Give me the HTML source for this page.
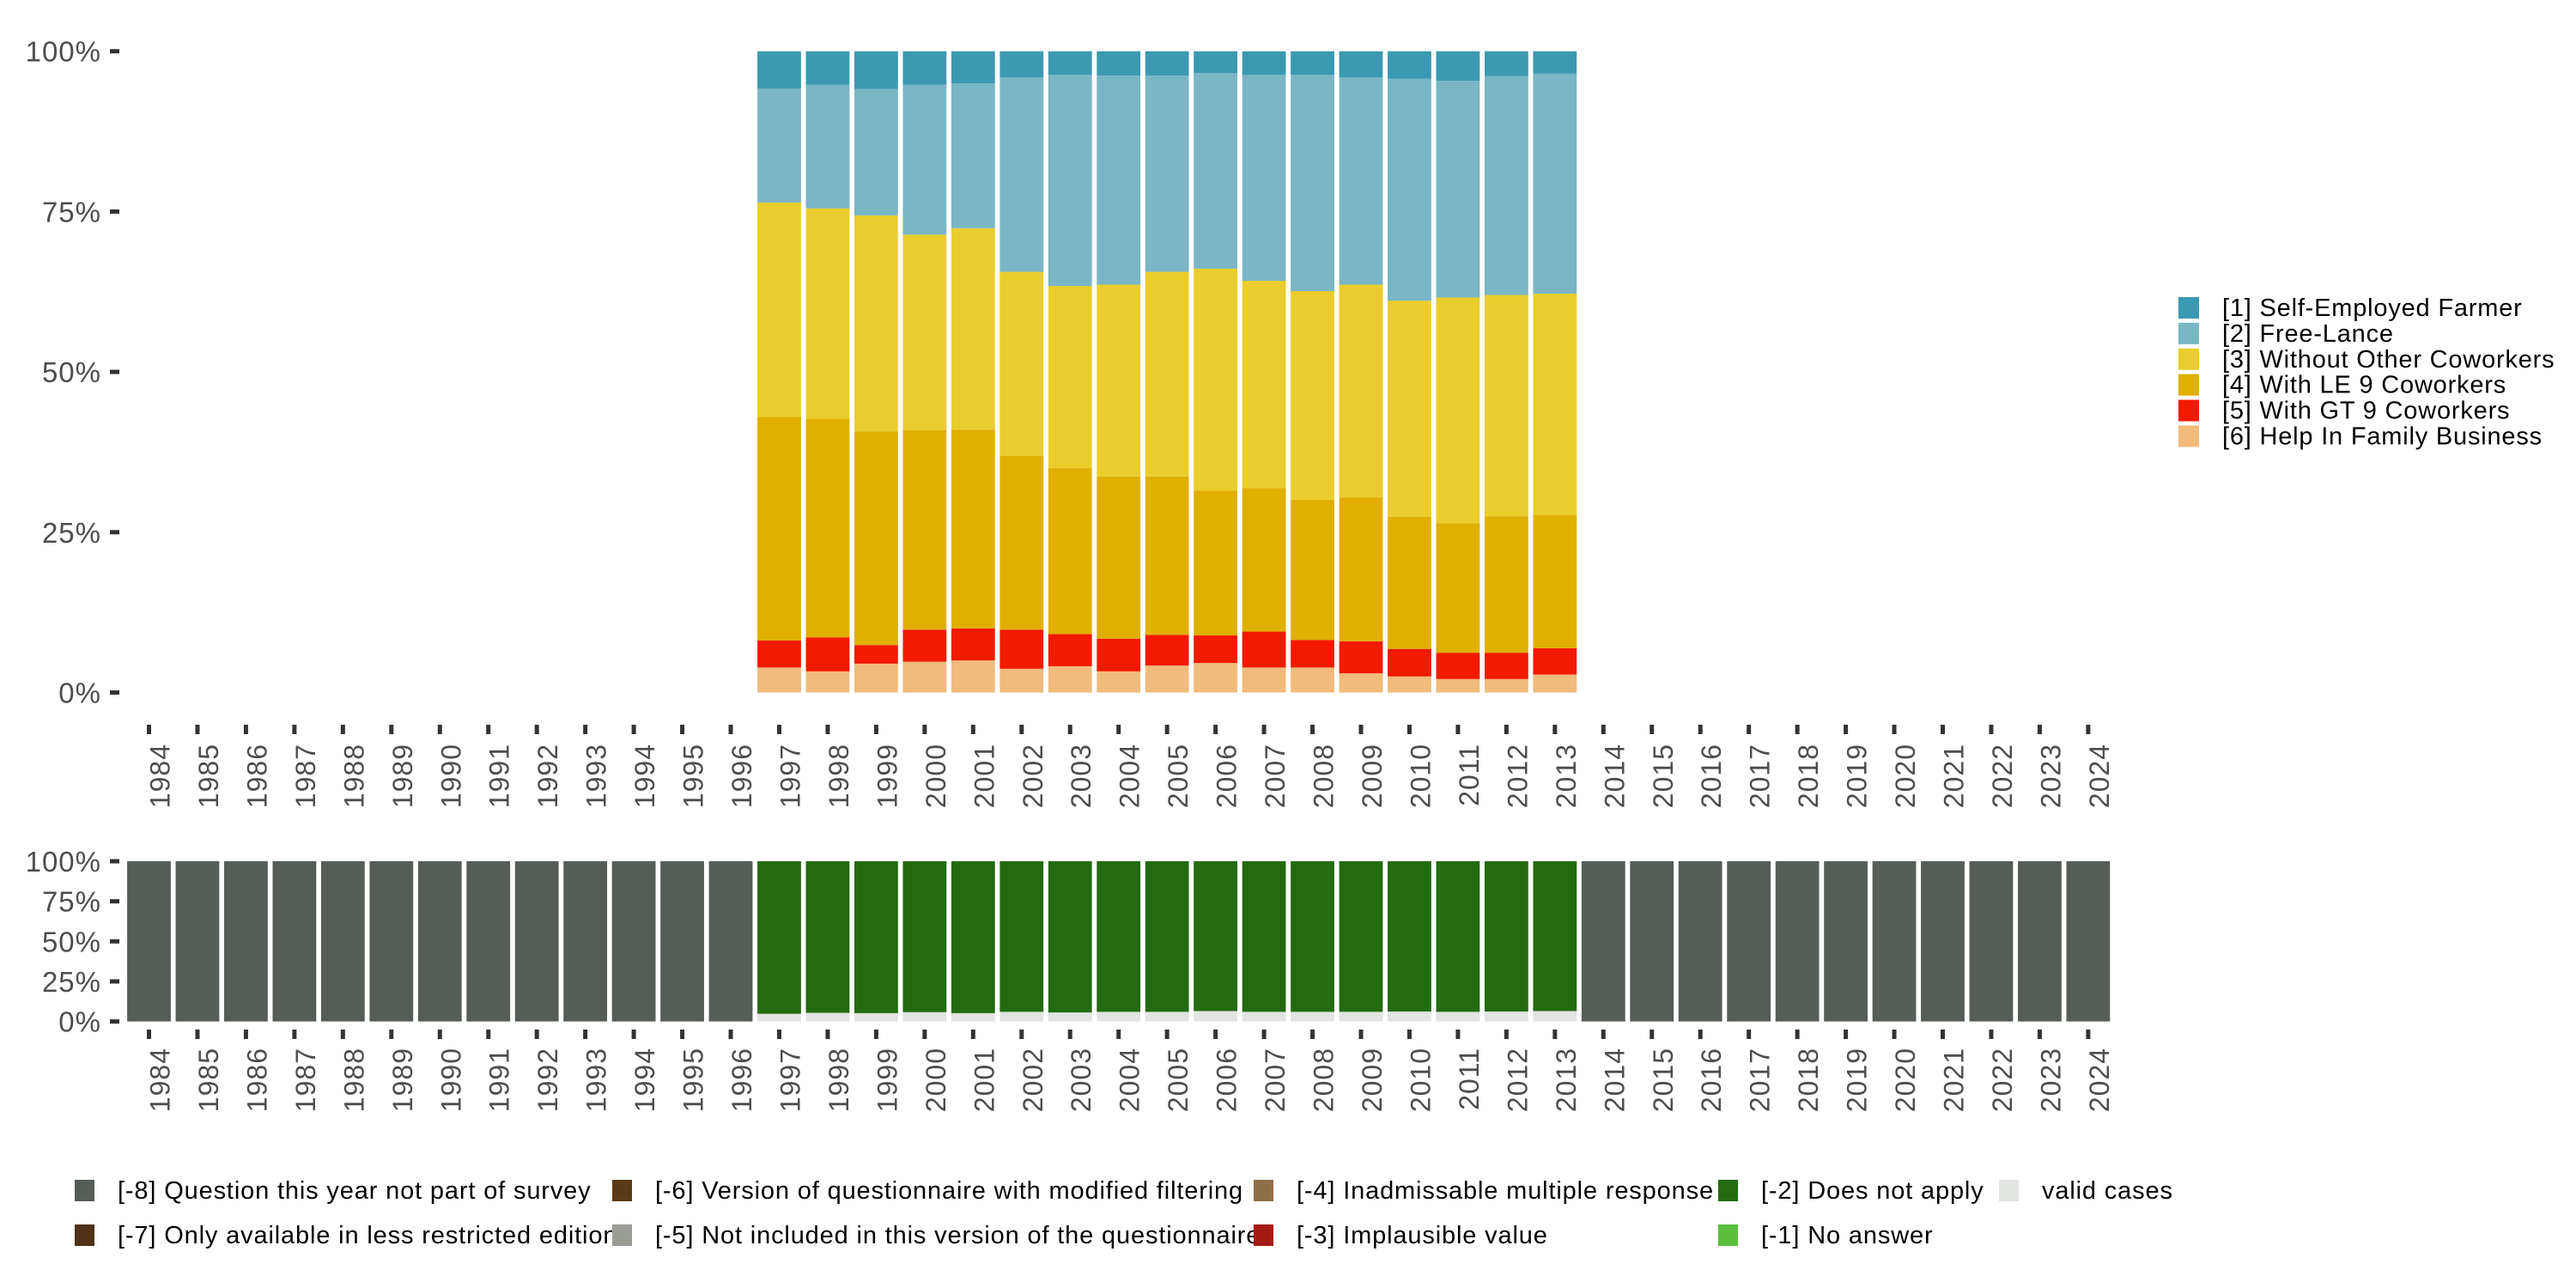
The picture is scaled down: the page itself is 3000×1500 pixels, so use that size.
<!DOCTYPE html>
<html><head><meta charset="utf-8">
<style>
html,body{margin:0;padding:0;background:#fff;}
svg{display:block;font-family:"Liberation Sans",sans-serif;}
</style></head>
<body>
<svg id="chart" width="3000" height="1500" viewBox="0 0 3000 1500" xmlns="http://www.w3.org/2000/svg">
<rect width="3000" height="1500" fill="#fff"/>
<g id="topchart"></g>
<g id="bottomchart"></g>
<g id="legend-right"></g>
<g id="legend-bottom"></g>
</svg>
<script>
const years = [];
for (let y = 1984; y <= 2024; y++) years.push(y);
const dataYears = [1997,1998,1999,2000,2001,2002,2003,2004,2005,2006,2007,2008,2009,2010,2011,2012,2013];
const catLabels = ["[1] Self-Employed Farmer","[2] Free-Lance","[3] Without Other Coworkers","[4] With LE 9 Coworkers","[5] With GT 9 Coworkers","[6] Help In Family Business"];
const catColors = ["#3b99b1","#7ab6c5","#eacd2c","#e0af00","#f21a00","#f1bb7b"];
const s1 = [5.8,5.2,5.9,5.2,5.0,4.1,3.7,3.8,3.8,3.4,3.7,3.7,4.1,4.3,4.6,3.9,3.5];
const s2 = [17.8,19.3,19.7,23.4,22.6,30.3,32.9,32.6,30.6,30.5,32.1,33.7,32.3,34.6,33.8,34.1,34.3];
const s3 = [33.4,32.8,33.7,30.5,31.4,28.7,28.4,29.9,31.9,34.6,32.3,32.5,33.2,33.7,35.2,34.5,34.5];
const s4 = [34.9,34.1,33.3,31.1,31.0,27.1,25.9,25.3,24.7,22.6,22.4,21.9,22.4,20.6,20.2,21.3,20.8];
const s5 = [4.2,5.3,2.9,5.0,5.0,6.1,5.0,5.1,4.8,4.3,5.6,4.3,5.0,4.3,4.1,4.1,4.1];
const s6 = [3.9,3.3,4.5,4.8,5.0,3.7,4.1,3.3,4.2,4.6,3.9,3.9,3.0,2.5,2.1,2.1,2.8];
const validShare = [4.8,5.4,5.2,5.8,5.2,6.0,5.6,6.0,6.0,6.5,6.0,6.0,6.0,6.2,6.0,6.2,6.5];
const yTicks = [0,25,50,75,100];
const yTickLabels = ["0%","25%","50%","75%","100%"];
const missLabels = ["[-8] Question this year not part of survey","[-7] Only available in less restricted edition","[-6] Version of questionnaire with modified filtering","[-5] Not included in this version of the questionnaire","[-4] Inadmissable multiple response","[-3] Implausible value","[-2] Does not apply","[-1] No answer","valid cases"];
const missColors = ["#565c56","#4f3217","#5a3a17","#9a9c96","#8f6e4a","#a51a14","#236b10","#5abf3c","#e1e4e0"];

const NS = "http://www.w3.org/2000/svg";
function mk(tag, attrs, parent){const e=document.createElementNS(NS,tag);for(const k in attrs)e.setAttribute(k,attrs[k]);parent.appendChild(e);return e;}
const PITCH = 56.46, X0 = 173.5, BW = 50.8;
function xC(year){return X0 + (year - 1984) * PITCH;}

function axes(g, yTop, yBot, tickY0, labY){
  const yS = v => yBot - (v/100)*(yBot-yTop);
  yTicks.forEach((v,i)=>{
    const t = mk("line",{x1:128,x2:139,y1:yS(v),y2:yS(v),stroke:"#333","stroke-width":5},g);
    
    
    const tx = mk("text",{x:118,y:yS(v)+12,"text-anchor":"end","font-size":33,"letter-spacing":1,fill:"#4d4d4d"},g);
    tx.textContent = yTickLabels[i];
    
    
  });
  years.forEach(yr=>{
    const x = xC(yr);
    const t = mk("line",{x1:x,x2:x,y1:tickY0,y2:tickY0+11,stroke:"#333","stroke-width":5},g);
    
    
    const tx = mk("text",{transform:`translate(${x+24},${labY}) rotate(-90)`,"text-anchor":"end","font-size":32,"letter-spacing":1,fill:"#4d4d4d"},g);
    tx.textContent = yr;
    
    
  });
  return yS;
}

// top chart
const topG = document.getElementById("topchart");
const yT = axes(topG, 59.7, 806.5, 844, 866);
const series = [s1,s2,s3,s4,s5,s6];
dataYears.forEach((yr,i)=>{
  const tot = series.reduce((a,s)=>a+s[i],0);
  let cum = 0;
  for (let c = 5; c >= 0; c--) {
    const v = series[c][i]/tot*100;
    const y1 = yT(cum), y2 = yT(cum+v);
    const r = mk("rect",{x:xC(yr)-BW/2,y:y2,width:BW,height:y1-y2,fill:catColors[c]},topG);
    
    
    cum += v;
  }
});

// bottom chart
const botG = document.getElementById("bottomchart");
const yB = axes(botG, 1003, 1189.6, 1199, 1220);
years.forEach(yr=>{
  const i = dataYears.indexOf(yr);
  if (i < 0) {
    const r = mk("rect",{x:xC(yr)-BW/2,y:yB(100),width:BW,height:yB(0)-yB(100),fill:missColors[0]},botG);
    
    
  } else {
    const v = validShare[i];
    const r1 = mk("rect",{x:xC(yr)-BW/2,y:yB(v),width:BW,height:yB(0)-yB(v),fill:missColors[8]},botG);
    
    
    const r2 = mk("rect",{x:xC(yr)-BW/2,y:yB(100),width:BW,height:yB(v)-yB(100),fill:missColors[6]},botG);
    
    
  }
});

// right legend
const lr = document.getElementById("legend-right");
catLabels.forEach((lab,i)=>{
  const y = 346 + i*29.9;
  const k = mk("rect",{x:2537,y:y,width:24,height:25,fill:catColors[i]},lr);
  
  
  const t = mk("text",{x:2588,y:y+22,"font-size":29,"letter-spacing":0.8,fill:"#000"},lr);
  t.textContent = lab;
  
  
});

// bottom legend
const lb = document.getElementById("legend-bottom");
const colX = [87,713,1460,2001,2328];
missLabels.forEach((lab,i)=>{
  const col = Math.floor(i/2), row = i%2;
  const kx = colX[col], ky = row ? 1426 : 1374;
  const k = mk("rect",{x:kx,y:ky,width:23,height:25,fill:missColors[i]},lb);
  
  
  const t = mk("text",{x:kx+50,y:ky+22,"font-size":29,"letter-spacing":0.85,fill:"#000"},lb);
  t.textContent = lab;
  
  
});
</script>
</body></html>
